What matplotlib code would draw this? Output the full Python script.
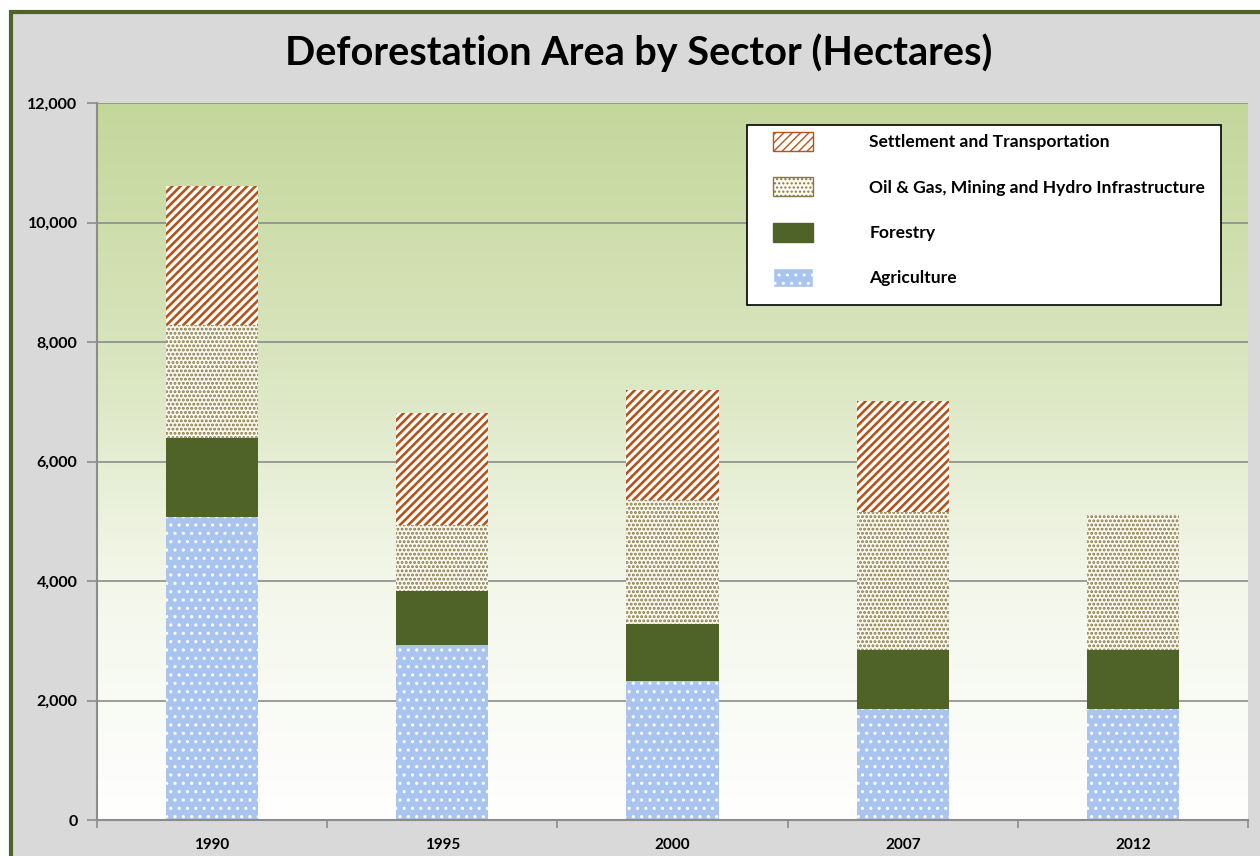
import numpy as np
import matplotlib.pyplot as plt
from matplotlib.patches import Rectangle, Patch
from matplotlib.colors import LinearSegmentedColormap
from matplotlib.ticker import FuncFormatter, FixedLocator

# data (hectares)
years = ['1990', '1995', '2000', '2007', '2012']
agriculture = [5070, 2930, 2330, 1860, 1860]
forestry = [1330, 900, 950, 990, 990]
oil_gas = [1890, 1100, 2080, 2310, 2260]
settlement = [2320, 1880, 1840, 1860, 0]
y_ticks = [0, 2000, 4000, 6000, 8000, 10000, 12000]
labels = ['Settlement and Transportation',
          'Oil & Gas, Mining and Hydro Infrastructure',
          'Forestry', 'Agriculture']

# fill styles: (face, hatch colour, hatch, hatch linewidth)
styles = {
    'settle': ('white', '#b5541a', '////', 1.9),
    'oil': ('#fbf8f0', '#857a48', '....', 1.4),
    'forest': ('#4f6228', '#4f6228', None, 1.0),
    'agri': ('#a9c4ee', '#ffffff', '..', 1.1),
}

fig = plt.figure(figsize=(12.6, 8.56), dpi=100)
fig.patch.set_facecolor('white')

# chart area frame
frame = Rectangle((11 / 1260, -0.05), 1.1, (856 - 12) / 856 + 0.05,
                  transform=fig.transFigure, facecolor='#d9d9d9',
                  edgecolor='#4f6228', linewidth=3, zorder=-10)
fig.patches.append(frame)

ax = fig.add_axes([97 / 1260, 36 / 856, 1151 / 1260, 717 / 856])
ax.set_zorder(1)
ax.set_facecolor('none')

x = np.arange(len(years))
ax.set_xlim(-0.5, len(years) - 0.5)
ax.set_ylim(0, 12000)

# gradient background of plot area
grad = LinearSegmentedColormap.from_list('g', ['#ffffff', '#f3f7ea', '#d8e4bc', '#c4d79b'])
gy = np.linspace(0, 1, 256).reshape(-1, 1)
ax.imshow(gy, cmap=grad, origin='lower', aspect='auto',
          extent=[-0.5, len(years) - 0.5, 0, 12000], zorder=0)

ax.yaxis.grid(True, color='#8c8c8c', linewidth=1.2, zorder=1)
ax.set_axisbelow(True)

w = 0.4
b1 = np.array(agriculture)
b2 = b1 + np.array(forestry)
b3 = b2 + np.array(oil_gas)


def stacked(key, vals, bottom):
    face, hc, hatch, hlw = styles[key]
    with plt.rc_context({'hatch.linewidth': hlw}):
        return ax.bar(x, vals, w, bottom=bottom, color=face, edgecolor=hc,
                      hatch=hatch, linewidth=0, zorder=2)


stacked('agri', agriculture, 0)
stacked('forest', forestry, b1)
stacked('oil', oil_gas, b2)
stacked('settle', settlement, b3)

for s in ['top', 'right']:
    ax.spines[s].set_visible(False)
for s in ['left', 'bottom']:
    ax.spines[s].set_color('#8c8c8c')
    ax.spines[s].set_linewidth(1.5)

ax.yaxis.set_major_locator(FixedLocator(y_ticks))
ax.yaxis.set_major_formatter(FuncFormatter(lambda v, p: f'{int(v):,}'))
ax.tick_params(axis='y', length=7, color='#8c8c8c', width=1.2, pad=7,
               labelsize=11.5)
ax.set_xticks(x)
ax.set_xticklabels(years)
ax.set_xticks(np.arange(-0.5, len(years), 1), minor=True)
ax.tick_params(axis='x', which='major', length=0, pad=13, labelsize=11)
ax.tick_params(axis='x', which='minor', length=6, color='#8c8c8c', width=1.2)
for lab in ax.get_xticklabels() + ax.get_yticklabels():
    lab.set_fontweight('bold')
    lab.set_fontfamily('Lato')

fig.text(0.507, 0.938, 'Deforestation Area by Sector (Hectares)', ha='center',
         va='center', fontsize=28.5, fontweight='bold', family='Lato')

# legend box
ax.add_patch(Rectangle((747 / 1260, 1 - 305 / 856), 474 / 1260, 180 / 856,
                       transform=fig.transFigure, facecolor='white',
                       edgecolor='black', linewidth=1.2, zorder=4, clip_on=False))
handles = []
for key in ['settle', 'oil', 'forest', 'agri']:
    face, hc, hatch, hlw = styles[key]
    with plt.rc_context({'hatch.linewidth': hlw}):
        handles.append(Patch(facecolor=face, edgecolor=hc, hatch=hatch, linewidth=1))
leg = ax.legend(handles, labels, loc='upper left',
                bbox_to_anchor=(773 / 1260, 1 - 132 / 856), bbox_transform=fig.transFigure,
                frameon=False, handlelength=2.3, handleheight=1.3, handletextpad=3.2,
                labelspacing=1.5, borderpad=0, borderaxespad=0,
                prop={'family': 'Lato', 'weight': 'bold', 'size': 12.6})
leg.set_zorder(5)

fig.savefig('out.png', dpi=100)
